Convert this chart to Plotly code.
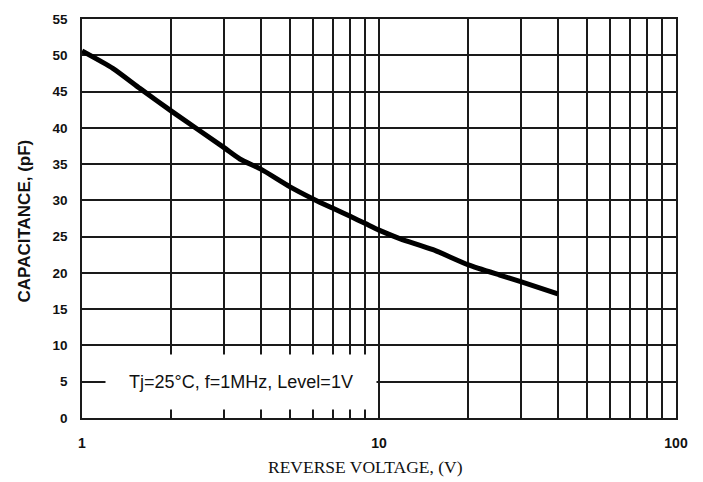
import plotly.graph_objects as go

# Data
volts = [1, 1.27, 1.57, 2, 3, 3.4, 4, 5, 6, 7, 8, 9, 10, 11.8, 15.2, 20, 25.5, 30, 40]
cap = [50.6, 48.2, 45.4, 42.3, 37.3, 35.7, 34.3, 31.9, 30.2, 28.9, 27.8, 26.8, 25.9, 24.7, 23.2, 21.1, 19.7, 18.8, 17.1]

x_grid_vals = [1, 2, 3, 4, 5, 6, 7, 8, 9, 10, 20, 30, 40, 50, 60, 70, 80, 90, 100]
x_labels = {1: "1", 10: "10", 100: "100"}
y_ticks = [0, 5, 10, 15, 20, 25, 30, 35, 40, 45, 50, 55]

note_text = "Tj=25°C, f=1MHz, Level=1V"
x_title = "REVERSE VOLTAGE, (V)"
y_title = "CAPACITANCE, (pF)"

GRID = "#1a1a1a"
SANS = "Liberation Sans, Arial, sans-serif"
SERIF = "Liberation Serif, Times New Roman, serif"

fig = go.Figure()
fig.add_trace(go.Scatter(
    x=volts, y=cap, mode="lines",
    line=dict(color="black", width=5, shape="spline", smoothing=0.6),
    showlegend=False, hoverinfo="skip",
))

fig.update_layout(
    width=703, height=482,
    margin=dict(l=82, r=27, t=13, b=64),
    paper_bgcolor="white", plot_bgcolor="white",
    xaxis=dict(
        type="log", range=[0, 2],
        tickvals=x_grid_vals,
        ticktext=[x_labels.get(v, "") for v in x_grid_vals],
        showgrid=True, gridcolor=GRID, gridwidth=1.5,
        showline=True, linecolor=GRID, linewidth=1.5, mirror=True,
        ticks="", zeroline=False,
        tickfont=dict(family=SANS, size=14, color="#111", weight="bold"),
        ticklabelstandoff=11,
    ),
    yaxis=dict(
        range=[0, 55],
        tickvals=y_ticks,
        showgrid=True, gridcolor=GRID, gridwidth=1.5,
        showline=True, linecolor=GRID, linewidth=1.5, mirror=True,
        ticks="", zeroline=False,
        tickfont=dict(family=SANS, size=13.5, color="#111", weight="bold"),
        ticklabelstandoff=10,
    ),
    annotations=[
        dict(
            x=0.535, y=5.0, xref="x", yref="y",
            text=note_text, showarrow=False,
            bgcolor="white", width=268, height=52,
            font=dict(family=SANS, size=18, color="#111"),
            xanchor="center", yanchor="middle",
        ),
        dict(
            x=0.478, y=-0.123, xref="paper", yref="paper",
            text=x_title, showarrow=False,
            font=dict(family=SERIF, size=17.5, color="#111"),
            xanchor="center", yanchor="middle",
        ),
        dict(
            x=-0.0976, y=0.4926, xref="paper", yref="paper",
            text=y_title, showarrow=False, textangle=-90,
            font=dict(family=SANS, size=17, color="#111", weight="bold"),
            xanchor="center", yanchor="middle",
        ),
    ],
)

fig.write_html("out.html")
